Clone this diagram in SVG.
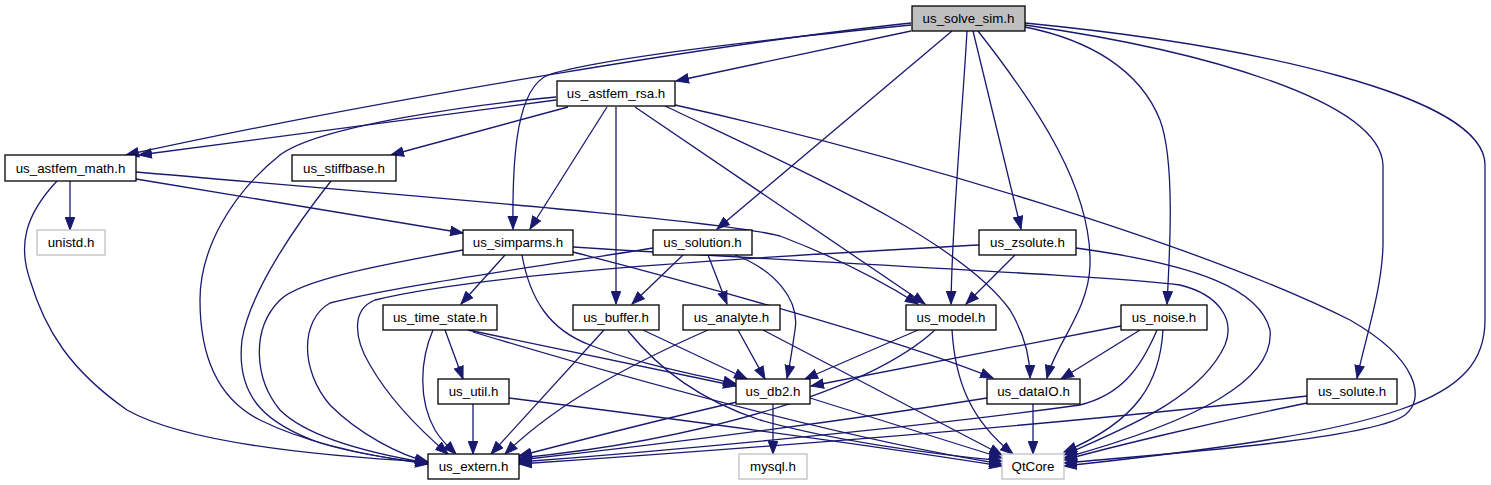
<svg xmlns="http://www.w3.org/2000/svg" width="1491" height="485" viewBox="0 0 1491 485">
<style>
.n rect{fill:#ffffff;stroke:#000000;stroke-width:1.3}
.n.root rect{fill:#bfbfbf}
.n.ext rect{stroke:#bfbfbf}
.n text{font-family:"Liberation Sans",Arial,sans-serif;font-size:13.33px;text-anchor:middle;fill:#000000}
#edges path{fill:none;stroke:#191970;stroke-width:1.3;marker-end:url(#ah)}
</style>
<defs>
<marker id="ah" markerUnits="userSpaceOnUse" markerWidth="14" markerHeight="11" viewBox="0 0 14 11" refX="13" refY="5.5" orient="auto">
<path d="M0.5,0.8 L13,5.5 L0.5,10.2 z" fill="#191970" stroke="#191970" stroke-width="1"/>
</marker>
</defs>
<rect width="1491" height="485" fill="#ffffff"/>
<g id="edges">
<!-- from us_solve_sim.h -->
<path d="M911,23 C750,40 400,95 126,155"/>
<path d="M911,25 C780,38 600,58 548,75 C518,88 512,150 513,229"/>
<path d="M911,31 L676,81"/>
<path d="M952,31 L717,229"/>
<path d="M967,31 C962,120 952,220 951,304"/>
<path d="M973,31 L1021,229"/>
<path d="M978,31 C1040,110 1092,190 1090,265 C1089,310 1055,345 1047,378"/>
<path d="M1025,27 C1090,40 1140,70 1160,120 C1175,160 1170,250 1167,304"/>
<path d="M1025,25 C1200,50 1380,100 1383,165 L1383,245 C1382,290 1365,340 1357,378"/>
<path d="M1025,23 C1250,45 1485,95 1485,165 L1485,320 C1485,400 1400,430 1064,466"/>
<!-- from us_astfem_rsa.h -->
<path d="M556,100 L139,155"/>
<path d="M568,107 L391,155"/>
<path d="M556,97 C480,104 320,125 280,155 C230,195 200,250 200,300 C200,360 220,400 260,420 C300,440 360,455 428,464"/>
<path d="M607,107 L530,229"/>
<path d="M616,107 L616,304"/>
<path d="M635,107 L925,304"/>
<path d="M665,106 C800,170 960,240 1010,310 C1025,335 1030,360 1030,378"/>
<path d="M675,105 C900,155 1200,245 1350,320 C1420,360 1425,400 1405,415 C1370,440 1150,455 1064,463"/>
<!-- from us_astfem_math.h -->
<path d="M70,181 L70,230"/>
<path d="M136,179 L463,233"/>
<path d="M136,172 C400,195 720,220 780,236 C830,255 880,280 918,304"/>
<path d="M57,181 C25,215 18,245 30,280 C45,330 70,370 127,410 C180,440 300,455 428,462"/>
<!-- from us_stiffbase.h -->
<path d="M331,181 C300,220 250,290 242,340 C235,400 270,425 320,443 C360,455 400,460 428,463"/>
<!-- from us_simparms.h -->
<path d="M463,250 C380,265 300,280 280,300 C250,330 255,380 280,410 C310,440 380,455 428,463"/>
<path d="M505,255 L461,304"/>
<path d="M522,255 C530,300 550,330 590,345 C640,365 700,375 736,384"/>
<path d="M573,252 C700,285 900,340 993,378"/>
<path d="M573,247 C800,262 1100,275 1180,285 C1220,295 1235,320 1225,345 C1200,400 1120,430 1064,455"/>
<!-- from us_solution.h -->
<path d="M653,248 C550,265 400,285 330,303 C300,320 300,370 330,405 C360,435 400,455 428,462"/>
<path d="M683,255 L632,304"/>
<path d="M708,255 L727,304"/>
<path d="M735,255 C775,270 800,300 795,330 C792,350 790,365 787,378"/>
<!-- from us_zsolute.h -->
<path d="M979,245 C800,255 500,270 375,300 C350,310 355,340 370,365 C390,400 420,430 448,454"/>
<path d="M1015,255 L966,304"/>
<path d="M1076,248 C1200,265 1260,290 1270,330 C1275,380 1200,420 1064,458"/>
<!-- from us_time_state.h -->
<path d="M445,330 L463,379"/>
<path d="M433,330 C420,360 418,400 435,430 C443,443 450,448 456,454"/>
<path d="M468,330 L736,386"/>
<path d="M473,332 C650,385 850,440 1002,464"/>
<!-- from us_buffer.h -->
<path d="M604,330 L491,454"/>
<path d="M643,330 L747,379"/>
<path d="M628,331 C660,370 700,400 760,420 C850,445 950,455 1002,461"/>
<!-- from us_analyte.h -->
<path d="M708,330 C640,360 560,400 505,454"/>
<path d="M738,330 L765,379"/>
<path d="M763,330 L1002,455"/>
<!-- from us_model.h -->
<path d="M918,330 L805,379"/>
<path d="M935,330 C870,390 700,440 519,458"/>
<path d="M952,330 C955,380 970,420 1013,454"/>
<!-- from us_noise.h -->
<path d="M1121,326 L811,386"/>
<path d="M1140,330 L1061,379"/>
<path d="M1157,330 C1140,370 1120,395 1080,405 C900,430 650,452 519,462"/>
<path d="M1163,330 C1160,380 1140,420 1064,452"/>
<!-- from us_util.h -->
<path d="M473,404 L473,454"/>
<path d="M509,398 C700,422 900,450 1002,466"/>
<!-- from us_db2.h -->
<path d="M737,402 C680,415 600,435 519,456"/>
<path d="M773,404 L773,454"/>
<path d="M810,398 L1002,458"/>
<!-- from us_dataIO.h -->
<path d="M987,398 C850,420 700,440 519,460"/>
<path d="M1033,404 L1033,454"/>
<!-- from us_solute.h -->
<path d="M1307,396 C1100,420 800,445 519,464"/>
<path d="M1307,403 C1200,425 1100,450 1064,460"/>
</g>
<g id="n_solve_sim" class="n root"><rect x="912" y="6" width="113" height="25"/><text x="968.5" y="23">us_solve_sim.h</text></g>
<g id="n_astfem_rsa" class="n"><rect x="557" y="81" width="118" height="25"/><text x="616" y="98">us_astfem_rsa.h</text></g>
<g id="n_astfem_math" class="n"><rect x="5" y="155" width="131" height="26"/><text x="70.5" y="172.5">us_astfem_math.h</text></g>
<g id="n_stiffbase" class="n"><rect x="292" y="155" width="104" height="26"/><text x="344" y="172.5">us_stiffbase.h</text></g>
<g id="n_unistd" class="n ext"><rect x="37" y="230" width="68" height="25"/><text x="71" y="247">unistd.h</text></g>
<g id="n_simparms" class="n"><rect x="463" y="230" width="110" height="25"/><text x="518" y="247">us_simparms.h</text></g>
<g id="n_solution" class="n"><rect x="653" y="230" width="99" height="25"/><text x="702.5" y="247">us_solution.h</text></g>
<g id="n_zsolute" class="n"><rect x="979" y="230" width="97" height="25"/><text x="1027.5" y="247">us_zsolute.h</text></g>
<g id="n_time_state" class="n"><rect x="383" y="305" width="114" height="25"/><text x="440" y="322">us_time_state.h</text></g>
<g id="n_buffer" class="n"><rect x="573" y="305" width="86" height="25"/><text x="616" y="322">us_buffer.h</text></g>
<g id="n_analyte" class="n"><rect x="683" y="305" width="97" height="25"/><text x="731.5" y="322">us_analyte.h</text></g>
<g id="n_model" class="n"><rect x="906" y="305" width="90" height="25"/><text x="951" y="322">us_model.h</text></g>
<g id="n_noise" class="n"><rect x="1121" y="305" width="86" height="25"/><text x="1164" y="322">us_noise.h</text></g>
<g id="n_util" class="n"><rect x="438" y="379" width="71" height="25"/><text x="473.5" y="396">us_util.h</text></g>
<g id="n_db2" class="n"><rect x="736" y="379" width="74" height="25"/><text x="773" y="396">us_db2.h</text></g>
<g id="n_dataIO" class="n"><rect x="987" y="379" width="93" height="25"/><text x="1033.5" y="396">us_dataIO.h</text></g>
<g id="n_solute" class="n"><rect x="1307" y="379" width="90" height="25"/><text x="1352" y="396">us_solute.h</text></g>
<g id="n_extern" class="n"><rect x="428" y="454" width="91" height="25"/><text x="473.5" y="471">us_extern.h</text></g>
<g id="n_mysql" class="n ext"><rect x="739" y="454" width="68" height="25"/><text x="773" y="471">mysql.h</text></g>
<g id="n_qtcore" class="n ext"><rect x="1002" y="454" width="62" height="25"/><text x="1033" y="471">QtCore</text></g>
</svg>
